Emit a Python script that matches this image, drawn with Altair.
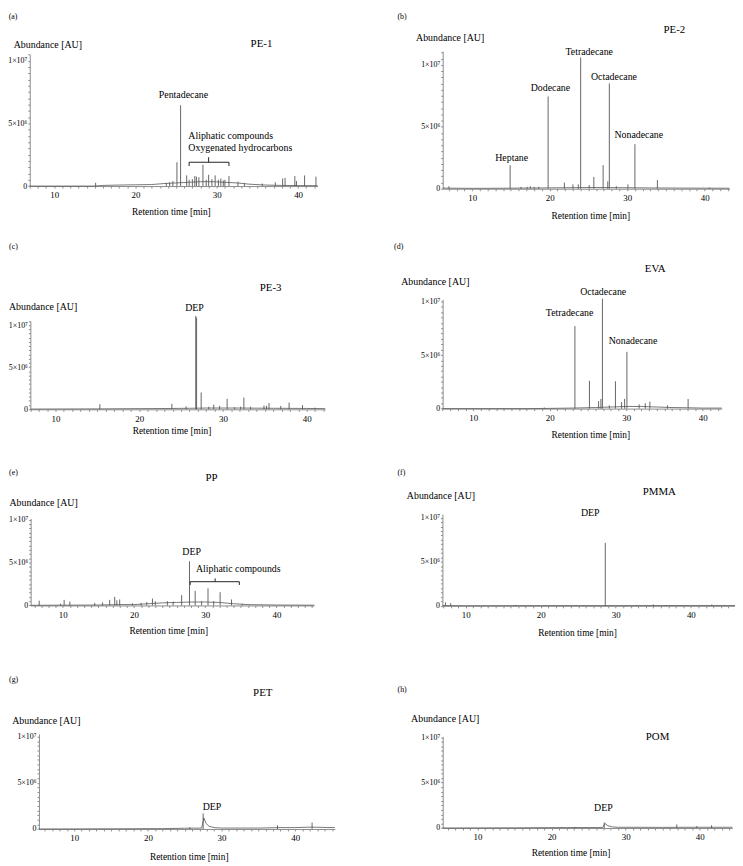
import math
import altair as alt
import pandas as pd

# ------------------------------------------------------------------ data
# retention times [min] and heights [x10^6 AU] of the peaks, per sample
PE1_PEAK_T = [15.1, 23.8, 24.2, 24.6, 25.1, 25.55, 26.3, 26.6, 27.0, 27.3, 27.5, 27.8, 28.3, 28.7,
              29.0, 29.4, 29.8, 30.2, 30.5, 30.8, 31.0, 31.5, 32.6, 33.4, 35.6, 37.2, 38.1, 38.4,
              39.6, 39.8, 40.8, 42.2]
PE1_PEAK_H = [0.26, 0.25, 0.3, 0.4, 1.9, 6.45, 0.85, 0.5, 0.55, 0.8, 0.75, 0.7, 1.7, 0.5,
              0.9, 0.55, 0.85, 0.5, 0.6, 0.45, 0.5, 0.8, 0.35, 0.25, 0.2, 0.3, 0.6, 0.65,
              0.8, 0.4, 0.85, 0.75]
PE1_BASE_T = [7.0, 15.0, 16.0, 18.0, 20.0, 22.0, 23.5, 25.0, 26.5, 28.0, 29.5, 31.0, 32.5, 34.0, 36.0, 38.0, 40.0, 42.4]
PE1_BASE_V = [0.0, 0.0, 0.05, 0.08, 0.1, 0.12, 0.2, 0.25, 0.3, 0.35, 0.35, 0.3, 0.25, 0.15, 0.08, 0.05, 0.04, 0.03]

PE2_PEAK_T = [7.0, 14.9, 16.3, 17.1, 17.5, 18.0, 18.6, 19.8, 21.9, 23.0, 23.7, 24.0, 25.1, 25.7,
              26.9, 27.5, 27.7, 28.6, 30.1, 31.0, 33.9, 40.6]
PE2_PEAK_H = [0.2, 1.9, 0.15, 0.15, 0.2, 0.15, 0.15, 7.45, 0.5, 0.35, 0.35, 10.6, 0.3, 0.95,
              1.9, 0.6, 8.5, 0.2, 0.35, 3.6, 0.7, 0.1]
PE2_BASE_T = [6.2, 10.0, 14.0, 18.0, 22.0, 26.0, 30.0, 34.0, 38.0, 43.2]
PE2_BASE_V = [0.05, 0.03, 0.04, 0.06, 0.08, 0.1, 0.08, 0.06, 0.05, 0.04]

PE3_PEAK_T = [15.3, 23.9, 25.6, 26.75, 26.85, 27.4, 28.3, 28.9, 29.6, 30.5, 31.4, 32.1, 32.5,
              33.3, 34.9, 35.2, 35.5, 36.9, 37.9, 39.5, 41.0]
PE3_PEAK_H = [0.6, 0.65, 0.35, 11.1, 10.9, 2.0, 0.3, 0.55, 0.4, 1.25, 0.25, 0.3, 1.4,
              0.3, 0.45, 0.4, 0.75, 0.4, 0.8, 0.5, 0.2]
PE3_BASE_T = [7.0, 15.0, 20.0, 24.0, 26.0, 28.0, 32.0, 36.0, 40.0, 42.2]
PE3_BASE_V = [0.03, 0.05, 0.08, 0.1, 0.12, 0.15, 0.15, 0.12, 0.1, 0.08]

EVA_PEAK_T = [19.3, 23.3, 25.2, 26.4, 26.7, 26.9, 27.8, 28.6, 29.4, 29.8, 30.1, 31.7, 32.5, 33.1, 35.4, 38.1]
EVA_PEAK_H = [0.1, 7.7, 2.6, 0.7, 0.9, 10.25, 0.3, 2.55, 0.6, 0.9, 5.3, 0.4, 0.5, 0.65, 0.3, 0.9]
EVA_BASE_T = [6.0, 17.0, 20.0, 23.0, 26.0, 28.0, 30.0, 32.0, 34.0, 36.0, 38.0, 40.0, 42.5]
EVA_BASE_V = [0.0, 0.0, 0.02, 0.05, 0.1, 0.15, 0.2, 0.2, 0.15, 0.1, 0.08, 0.05, 0.05]

PP_PEAK_T = [6.7, 9.7, 10.2, 11.0, 14.5, 15.6, 16.6, 17.3, 17.6, 18.0, 19.8, 21.0, 21.8, 22.6,
             23.0, 24.7, 25.5, 26.7, 27.8, 28.6, 29.5, 30.4, 31.2, 32.1, 33.7, 35.2]
PP_PEAK_H = [0.55, 0.2, 0.65, 0.45, 0.3, 0.35, 0.65, 1.0, 0.6, 0.7, 0.25, 0.3, 0.4, 0.8,
             0.5, 0.5, 0.45, 1.2, 5.15, 1.7, 0.5, 2.0, 0.5, 1.55, 0.7, 0.2]
PP_BASE_T = [5.5, 10.0, 15.0, 18.0, 20.0, 22.0, 24.0, 26.0, 28.0, 30.0, 32.0, 34.0, 36.0, 40.0, 45.3]
PP_BASE_V = [0.02, 0.03, 0.05, 0.1, 0.1, 0.2, 0.3, 0.35, 0.4, 0.4, 0.35, 0.2, 0.1, 0.05, 0.03]

PMMA_PEAK_T = [7.3, 8.0, 16.7, 28.6, 35.0, 42.8]
PMMA_PEAK_H = [0.4, 0.3, 0.1, 7.15, 0.15, 0.15]
PMMA_BASE_T = [6.9, 10.0, 20.0, 30.0, 40.0, 45.9]
PMMA_BASE_V = [0.03, 0.02, 0.03, 0.03, 0.04, 0.04]

PET_PEAK_T = [25.7, 27.5, 37.6, 42.3]
PET_PEAK_H = [0.2, 1.7, 0.4, 0.7]
PET_BASE_T = [5.2, 15.0, 22.0, 25.0, 27.3, 27.6, 27.9, 28.3, 29.0, 30.0, 35.0, 38.0, 40.0, 42.0, 45.4]
PET_BASE_V = [0.0, 0.02, 0.04, 0.08, 0.1, 1.2, 0.6, 0.3, 0.15, 0.1, 0.1, 0.15, 0.15, 0.2, 0.15]

POM_PEAK_T = [23.1, 27.1, 36.9, 39.6, 41.6]
POM_PEAK_H = [0.1, 0.6, 0.4, 0.2, 0.3]
POM_BASE_T = [5.3, 15.0, 22.0, 26.9, 27.2, 27.6, 28.2, 29.0, 35.0, 40.0, 44.4]
POM_BASE_V = [0.0, 0.02, 0.05, 0.05, 0.5, 0.25, 0.12, 0.08, 0.07, 0.08, 0.08]

# compound annotations: text, retention time, level, alignment
PE1_LABELS = ["Pentadecane", "Aliphatic compounds", "Oxygenated hydrocarbons"]
PE1_LABEL_T = [25.9, 26.5, 26.5]
PE1_LABEL_V = [7.3, 4.0, 3.03]
PE1_LABEL_AL = ["center", "left", "left"]
PE2_LABELS = ["Heptane", "Dodecane", "Tetradecane", "Octadecane", "Nonadecane"]
PE2_LABEL_T = [15.1, 20.1, 25.1, 28.3, 31.5]
PE2_LABEL_V = [2.5, 8.1, 11.0, 9.0, 4.3]
PE2_LABEL_AL = ["center"] * 5
PE3_LABELS = ["DEP"]
PE3_LABEL_T = [26.6]
PE3_LABEL_V = [12.0]
PE3_LABEL_AL = ["center"]
EVA_LABELS = ["Tetradecane", "Octadecane", "Nonadecane"]
EVA_LABEL_T = [22.6, 27.0, 30.9]
EVA_LABEL_V = [8.9, 10.9, 6.3]
EVA_LABEL_AL = ["center"] * 3
PP_LABELS = ["DEP", "Aliphatic compounds"]
PP_LABEL_T = [28.1, 28.7]
PP_LABEL_V = [6.2, 4.2]
PP_LABEL_AL = ["center", "left"]
PMMA_LABELS = ["DEP"]
PMMA_LABEL_T = [26.6]
PMMA_LABEL_V = [10.5]
PMMA_LABEL_AL = ["center"]
PET_LABELS = ["DEP"]
PET_LABEL_T = [28.7]
PET_LABEL_V = [2.4]
PET_LABEL_AL = ["center"]
POM_LABELS = ["DEP"]
POM_LABEL_T = [27.0]
POM_LABEL_V = [2.15]
POM_LABEL_AL = ["center"]

# brackets: start, end, level, drop of ends, middle tick position, rise of middle tick
PE1_BRACKET = [26.6, 31.5, 1.9, 0.3, 29.0, 0.4]
PP_BRACKET = [27.9, 34.8, 2.77, 0.38, 31.4, 0.38]

# panel letters and sample names
PANEL_LETTERS = ["(a)", "(b)", "(c)", "(d)", "(e)", "(f)", "(g)", "(h)"]
LETTER_T = [4.41, 0.35, 4.45, -0.35, 2.46, 0.9, 1.13, -0.8]
LETTER_V = [13.5, 13.9, 19.3, 15.1, 15.5, 15.1, 16.1, 15.2]
SAMPLES = ["PE-1", "PE-2", "PE-3", "EVA", "PP", "PMMA", "PET", "POM"]
SAMPLE_T = [35.5, 36.1, 35.7, 33.8, 30.9, 35.8, 35.6, 34.3]
SAMPLE_V = [11.3, 12.85, 14.4, 13.0, 14.8, 12.9, 14.7, 10.0]

# ------------------------------------------------------------------ layout (page pixels)
W, H = 735, 858
M = 8
LAYOUT = [
    dict(xdom=[7.0, 42.4], xr=[30, 321], ydom=[0, 10.5], yr=[183.3, 50.3], yt=(13.3, 40), xt=(172.7, 209.3)),
    dict(xdom=[6.2, 43.2], xr=[447.5, 737.4], ydom=[0, 11.1], yr=[186, 47], yt=(420, 33.3), xt=(596.7, 213.3)),
    dict(xdom=[7.0, 42.2], xr=[30.6, 328.6], ydom=[0, 10.5], yr=[409, 319.7], yt=(8.5, 305), xt=(173.3, 430.7)),
    dict(xdom=[6.0, 42.5], xr=[447.4, 729.6], ydom=[0, 10.2], yr=[408.3, 297.8], yt=(405, 280), xt=(596.7, 434.3)),
    dict(xdom=[5.5, 45.3], xr=[30.9, 317.5], ydom=[0, 10.15], yr=[607.3, 519.3], yt=(9, 503.3), xt=(170, 632.7)),
    dict(xdom=[6.9, 45.9], xr=[447.2, 743.1], ydom=[0, 10.4], yr=[607.7, 515.1], yt=(410.7, 496), xt=(583.3, 634.3)),
    dict(xdom=[5.2, 45.4], xr=[39.3, 338.5], ydom=[0, 10.3], yr=[833.3, 737.2], yt=(11.7, 723.3), xt=(190.7, 861)),
    dict(xdom=[5.3, 44.4], xr=[447.5, 740.3], ydom=[0, 10.1], yr=[832.3, 739.7], yt=(415, 721.7), xt=(576.7, 857.3)),
]

FONT = "Liberation Serif"
TRACE = "#555555"

SERIES = [
    (PE1_PEAK_T, PE1_PEAK_H, PE1_BASE_T, PE1_BASE_V, PE1_LABELS, PE1_LABEL_T, PE1_LABEL_V, PE1_LABEL_AL, PE1_BRACKET),
    (PE2_PEAK_T, PE2_PEAK_H, PE2_BASE_T, PE2_BASE_V, PE2_LABELS, PE2_LABEL_T, PE2_LABEL_V, PE2_LABEL_AL, None),
    (PE3_PEAK_T, PE3_PEAK_H, PE3_BASE_T, PE3_BASE_V, PE3_LABELS, PE3_LABEL_T, PE3_LABEL_V, PE3_LABEL_AL, None),
    (EVA_PEAK_T, EVA_PEAK_H, EVA_BASE_T, EVA_BASE_V, EVA_LABELS, EVA_LABEL_T, EVA_LABEL_V, EVA_LABEL_AL, None),
    (PP_PEAK_T, PP_PEAK_H, PP_BASE_T, PP_BASE_V, PP_LABELS, PP_LABEL_T, PP_LABEL_V, PP_LABEL_AL, PP_BRACKET),
    (PMMA_PEAK_T, PMMA_PEAK_H, PMMA_BASE_T, PMMA_BASE_V, PMMA_LABELS, PMMA_LABEL_T, PMMA_LABEL_V, PMMA_LABEL_AL, None),
    (PET_PEAK_T, PET_PEAK_H, PET_BASE_T, PET_BASE_V, PET_LABELS, PET_LABEL_T, PET_LABEL_V, PET_LABEL_AL, None),
    (POM_PEAK_T, POM_PEAK_H, POM_BASE_T, POM_BASE_V, POM_LABELS, POM_LABEL_T, POM_LABEL_V, POM_LABEL_AL, None),
]

Y_LABELS = "datum.value == 10 ? '1×10⁷' : (datum.value == 5 ? '5×10⁶' : (datum.value == 0 ? '0' : ''))"
X_LABELS = "datum.value % 10 == 0 ? datum.label : ''"


def build_panel(i):
    L = LAYOUT[i]
    peak_t, peak_h, base_t, base_v, labs, lab_t, lab_v, lab_al, bracket = SERIES[i]
    x0, x1 = L["xr"][0] - M, L["xr"][1] - M
    y0, y1 = L["yr"][0] - M, L["yr"][1] - M
    xs = alt.Scale(domain=L["xdom"], range=[x0, x1], nice=False, zero=False)
    ys = alt.Scale(domain=L["ydom"], range=[y0, y1], nice=False, zero=False)
    xvals = list(range(math.ceil(L["xdom"][0]), math.floor(L["xdom"][1]) + 1))
    yvals = [k * 0.5 for k in range(int(L["ydom"][1] / 0.5) + 1)]

    xaxis = alt.Axis(
        orient="bottom", offset=y0 - H, values=xvals, labelExpr=X_LABELS,
        grid=False, tickSize=2, tickColor="#8c8c8c", domainColor="#8c8c8c", domainWidth=1,
        labelFont=FONT, labelFontSize=9, labelColor="black", labelPadding=3,
        labelFlush=False, labelOverlap=False,
        title="Retention time [min]", titleFont=FONT, titleFontSize=9.5, titleFontWeight="normal",
        titleColor="black", titleX=L["xt"][0] - M, titleY=L["xt"][1] - L["yr"][0],
        titleAlign="center", titleBaseline="middle",
    )
    yaxis = alt.Axis(
        orient="left", offset=-x0, values=yvals, labelExpr=Y_LABELS,
        grid=False, tickSize=2, tickColor="#8c8c8c", domainColor="#8c8c8c", domainWidth=1,
        labelFont=FONT, labelFontSize=8, labelColor="black", labelPadding=1,
        labelFlush=False, labelOverlap=False,
        title="Abundance [AU]", titleFont=FONT, titleFontSize=10, titleFontWeight="normal",
        titleColor="black", titleAngle=0, titleAlign="left", titleBaseline="middle",
        titleX=L["yt"][0] - L["xr"][0], titleY=L["yt"][1] - M,
    )

    def X(field):
        return alt.X(field, type="quantitative", scale=xs, axis=xaxis)

    def Y(field):
        return alt.Y(field, type="quantitative", scale=ys, axis=yaxis)

    base_df = pd.DataFrame({"t": base_t, "v": base_v})
    peak_df = pd.DataFrame({"t": peak_t, "h": peak_h})

    base = alt.Chart(base_df).mark_line(color=TRACE, strokeWidth=0.8).encode(
        x=X("t"), y=Y("v"),
    )
    peaks = alt.Chart(peak_df).mark_rule(color=TRACE, strokeWidth=0.9).encode(
        x=X("t"), y=Y("h"), y2=alt.datum(0),
    )

    ann_df = pd.DataFrame({
        "t": list(lab_t) + [SAMPLE_T[i], LETTER_T[i]],
        "v": list(lab_v) + [SAMPLE_V[i], LETTER_V[i]],
        "label": list(labs) + [SAMPLES[i], PANEL_LETTERS[i]],
        "al": list(lab_al) + ["center", "left"],
        "fs": [10] * len(labs) + [11, 8],
    })
    layers = [base, peaks]
    for al in ["center", "left"]:
        layers.append(
            alt.Chart(ann_df).transform_filter(f"datum.al == '{al}'")
            .mark_text(font=FONT, color="black", align=al, baseline="middle")
            .encode(
                x=X("t"), y=Y("v"),
                text="label:N",
                size=alt.Size("fs:Q", scale=None),
            )
        )

    if bracket is not None:
        s, e, lvl, drop, mid, rise = bracket
        br_df = pd.DataFrame({
            "xa": [s, s, e, mid],
            "xb": [e, s, e, mid],
            "ya": [lvl, lvl - drop, lvl - drop, lvl],
            "yb": [lvl, lvl, lvl, lvl + rise],
        })
        layers.append(
            alt.Chart(br_df).mark_rule(color="#222222", strokeWidth=1).encode(
                x=X("xa"), x2="xb:Q", y=Y("ya"), y2="yb:Q",
            )
        )
    return alt.layer(*layers)


chart = (
    alt.layer(*[build_panel(i) for i in range(8)])
    .resolve_scale(x="independent", y="independent")
    .properties(width=W, height=H, autosize=alt.AutoSizeParams(type="none"), padding=0,
                background="white")
    .configure_view(strokeWidth=0)
)

chart.save("out.html", embed_options={"renderer": "svg", "actions": False})
